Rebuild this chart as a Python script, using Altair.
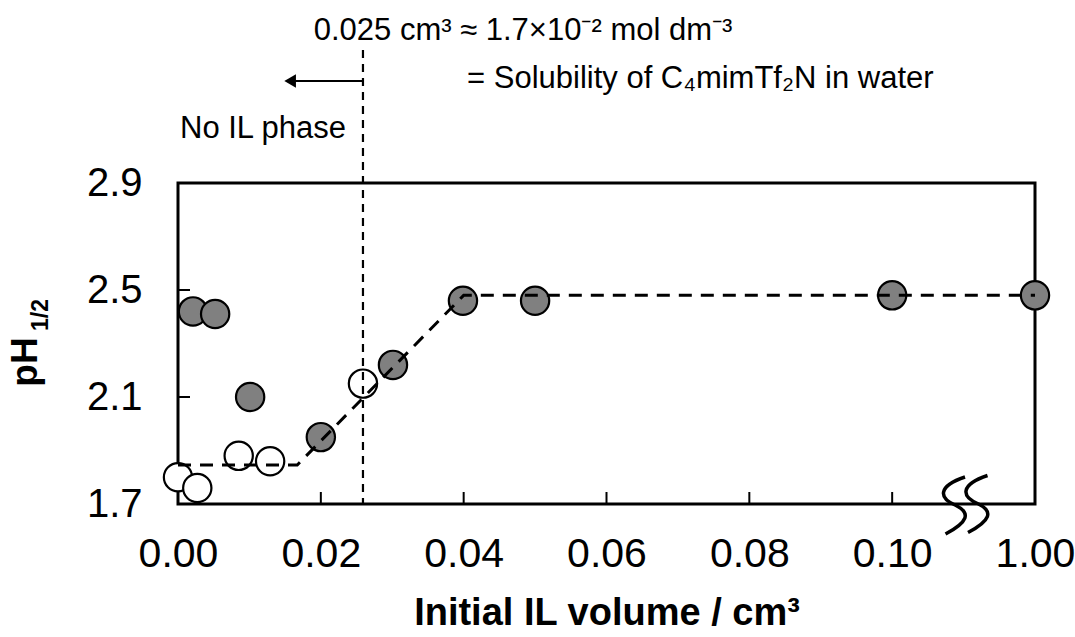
import altair as alt
import pandas as pd

# ---- data ----
white_x = [0.000, 0.0027, 0.0085, 0.0129, 0.0259]
white_y = [1.80, 1.76, 1.88, 1.86, 2.15]
gray_x = [0.0021, 0.0052, 0.0101, 0.0200, 0.0301, 0.0399, 0.0500, 0.100, 1.00]
gray_y = [2.42, 2.41, 2.10, 1.95, 2.22, 2.46, 2.46, 2.48, 2.48]
fit_x = [0.0, 0.0167, 0.040, 1.00]
fit_y = [1.846, 1.846, 2.48, 2.48]
x_ticks = [0.00, 0.02, 0.04, 0.06, 0.08, 0.10, 0.12]   # 0.12 position shows "1.00" (broken axis)
y_ticks = [1.7, 2.1, 2.5, 2.9]
solubility_x = 0.0259

ann_top = ["0.025 cm³ ≈ 1.7×10⁻² mol dm⁻³"]
ann_sol = ["= Solubility of C₄mimTf₂N in water"]
ann_noil = ["No IL phase"]
x_title = "Initial IL volume / cm³"

W, H = 857, 321
FONT = "Liberation Sans"


def pos(v):
    return v if v <= 0.1 else 0.12


pts = pd.DataFrame({
    "x": [pos(v) for v in white_x + gray_x],
    "y": white_y + gray_y,
    "kind": ["open"] * len(white_x) + ["filled"] * len(gray_x),
})
fit = pd.DataFrame({"x": [pos(v) for v in fit_x], "y": fit_y, "o": range(len(fit_x))})

xscale = alt.Scale(domain=[0, 0.12], nice=False, zero=False)
yscale = alt.Scale(domain=[1.7, 2.9], nice=False, zero=False)

xaxis = alt.Axis(
    values=x_ticks, labelExpr="datum.value > 0.11 ? '1.00' : format(datum.value, '.2f')",
    title=x_title, titleFont=FONT, titleFontSize=38, titleFontWeight="bold", titleColor="black",
    titlePadding=20, labelFont=FONT, labelFontSize=41, labelColor="black", labelPadding=30,
    domain=False, ticks=False, grid=False, labelFlush=False,
)
yaxis = alt.Axis(
    values=y_ticks, format=".1f", title=None, labelFont=FONT, labelFontSize=40,
    labelColor="black", labelPadding=36, domain=False, ticks=False, grid=False, labelFlush=False,
)

points = alt.Chart(pts).mark_point(filled=True, size=800, stroke="black", strokeWidth=2.2, opacity=1).encode(
    x=alt.X("x:Q", scale=xscale, axis=xaxis),
    y=alt.Y("y:Q", scale=yscale, axis=yaxis),
    fill=alt.Fill("kind:N", scale=alt.Scale(domain=["open", "filled"], range=["white", "#808080"]), legend=None),
)

fit_line = alt.Chart(fit).mark_line(color="black", strokeWidth=3, strokeDash=[13, 9]).encode(
    x=alt.X("x:Q", scale=xscale), y=alt.Y("y:Q", scale=yscale), order="o:Q"
)

vline = alt.Chart(pd.DataFrame({"x": [solubility_x]})).mark_rule(
    color="black", strokeWidth=2.2, strokeDash=[8, 6]
).encode(x=alt.X("x:Q", scale=xscale), y=alt.value(-133), y2=alt.value(H))

xt = alt.Chart(pd.DataFrame({"x": x_ticks})).mark_rule(color="black", strokeWidth=2).encode(
    x=alt.X("x:Q", scale=xscale), y=alt.value(H - 12), y2=alt.value(H)
)
yt = alt.Chart(pd.DataFrame({"y": y_ticks})).mark_rule(color="black", strokeWidth=2).encode(
    y=alt.Y("y:Q", scale=yscale), x=alt.value(0), x2=alt.value(12)
)

arrow = alt.Chart(pd.DataFrame({"a": [solubility_x], "b": [0.0162]})).mark_rule(color="black", strokeWidth=2).encode(
    x=alt.X("a:Q", scale=xscale), x2="b:Q", y=alt.value(-102)
)
arrowhead = alt.Chart(pd.DataFrame({"b": [0.0157]})).mark_point(
    shape="triangle-left", filled=True, color="black", size=180, opacity=1
).encode(x=alt.X("b:Q", scale=xscale), y=alt.value(-102))

brk = alt.Chart(pd.DataFrame({"x": [0.1102], "y": [1.7]})).mark_point(
    shape=("M 0 -0.9 C -0.9 -0.6, -0.9 -0.2, -0.3 0.05 C 0.2 0.3, 0.1 0.6, -0.65 1.0 "
           "M 0.75 -0.95 C -0.15 -0.65, -0.15 -0.25, 0.45 0 C 0.95 0.25, 0.85 0.55, 0.1 0.95"),
    filled=False, stroke="black", strokeWidth=3.5, size=3600, opacity=1,
).encode(x=alt.X("x:Q", scale=xscale), y=alt.Y("y:Q", scale=yscale))


def label(txt, x, y, size, align="left", baseline="alphabetic", weight="normal", angle=0):
    return alt.Chart(pd.DataFrame({"t": txt})).mark_text(
        font=FONT, fontSize=size, align=align, baseline=baseline, fontWeight=weight,
        color="black", angle=angle,
    ).encode(x=alt.value(x), y=alt.value(y), text="t:N")


t1 = label(ann_top, 345, -143, 31, align="center")
t2 = label(ann_sol, 289, -95, 31)
t3 = label(ann_noil, 2, -45, 31)
ytitle1 = label(["pH"], -152, 179, 37, align="center", baseline="middle", weight="bold", angle=270)
ytitle2 = label(["1/2"], -137, 132, 23, align="center", baseline="middle", weight="bold", angle=270)

chart = alt.layer(
    points, fit_line, vline, xt, yt, arrow, arrowhead, brk, t1, t2, t3, ytitle1, ytitle2
).properties(
    width=W, height=H,
    background="white",
    autosize=alt.AutoSizeParams(type="none"),
    padding={"left": 178, "top": 183, "right": 40, "bottom": 133},
).configure_view(stroke="black", strokeWidth=3)

chart.save("out.html", embed_options={"renderer": "svg", "actions": False})
